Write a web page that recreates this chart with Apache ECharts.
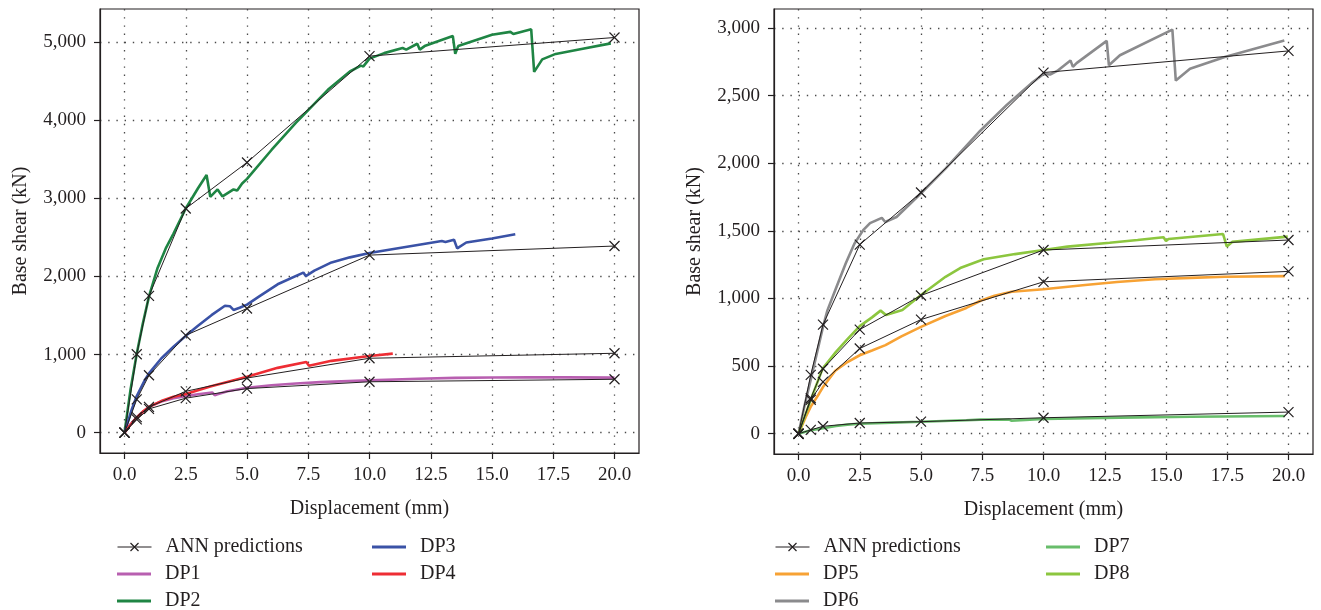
<!DOCTYPE html>
<html>
<head>
<meta charset="utf-8">
<script src="https://cdn.jsdelivr.net/npm/echarts@6/dist/echarts.min.js"></script>
<style>
  html, body { margin: 0; padding: 0; background: #ffffff; }
  #chart { width: 1321px; height: 610px; }
</style>
</head>
<body>
<div id="chart"></div>
<script>
// Displacement steps at which the ANN model was evaluated (mm)
const displacementAnn = [0, 0.5, 1, 2.5, 5, 10, 20];

// ANN predicted base shear (kN) for each design point
const annDP1 = [0, 170, 305, 442, 565, 652, 684];
const annDP2 = [0, 1005, 1752, 2870, 3460, 4822, 5060];
const annDP3 = [0, 426, 735, 1247, 1590, 2274, 2390];
const annDP4 = [0, 200, 330, 530, 700, 953, 1017];
const annDP5 = [0, 250, 383, 630, 844, 1123, 1200];
const annDP6 = [0, 435, 806, 1398, 1783, 2670, 2830];
const annDP7 = [0, 28, 55, 79, 89, 118, 160];
const annDP8 = [0, 262, 480, 770, 1022, 1358, 1432];

// Pushover curves: [displacement (mm), base shear (kN)]
const dp1 = [[0,0],[0.25,110],[0.5,195],[0.75,268],[1.0,330],[1.5,400],[2.0,442],[2.5,468],[3.0,492],[3.58,515],[3.68,480],[3.8,492],[4.2,530],[5.0,575],[6.0,608],[7.0,630],[8.0,647],[10.0,670],[12.0,690],[13.5,702],[15.0,707],[16.5,709],[18.0,708],[20.0,705]];
const dp2 = [[0,0],[0.25,560],[0.5,1010],[0.75,1400],[1.0,1745],[1.35,2110],[1.7,2370],[2.0,2550],[2.5,2870],[3.0,3130],[3.35,3300],[3.5,3020],[3.8,3115],[4.0,3025],[4.45,3115],[4.6,3100],[4.8,3190],[5.0,3250],[6.0,3620],[7.0,3970],[7.5,4130],[8.3,4390],[9.2,4625],[9.65,4700],[9.75,4690],[10.0,4790],[10.6,4860],[11.35,4925],[11.5,4905],[11.95,4980],[12.05,4905],[12.25,4950],[13.4,5080],[13.5,4850],[13.62,4950],[15.0,5095],[15.75,5132],[15.87,5105],[16.6,5165],[16.72,4620],[17.05,4780],[17.6,4850],[18.6,4910],[19.85,4985]];
const dp3 = [[0,0],[0.3,300],[0.5,470],[0.84,680],[1.0,760],[1.5,950],[2.0,1100],[2.5,1240],[3.0,1370],[3.55,1505],[4.1,1625],[4.3,1620],[4.45,1572],[4.7,1600],[5.0,1640],[5.5,1745],[6.25,1900],[7.3,2050],[7.4,2005],[7.75,2075],[8.45,2180],[9.2,2245],[10.0,2300],[11.35,2372],[12.95,2455],[13.1,2443],[13.45,2470],[13.58,2360],[13.95,2435],[15.0,2487],[15.95,2540]];
const dp4 = [[0,0],[0.25,105],[0.5,195],[0.75,270],[1.0,330],[1.5,405],[2.0,460],[2.5,495],[3.5,590],[5.0,715],[6.25,830],[7.42,905],[7.53,858],[8.45,920],[10.0,983],[10.95,1012]];
const dp5 = [[0,0],[0.3,125],[0.5,200],[0.84,296],[1.0,345],[1.5,465],[2.0,530],[2.5,580],[3.0,615],[3.55,655],[4.2,720],[5.0,790],[6.0,870],[6.85,930],[7.45,985],[8.0,1020],[8.7,1050],[10.0,1068],[11.7,1100],[13.0,1122],[14.55,1142],[16.0,1152],[17.4,1160],[19.85,1165]];
const dp6 = [[0,0],[0.25,210],[0.5,400],[0.84,665],[1.0,790],[1.18,912],[1.53,1075],[1.93,1260],[2.28,1405],[2.64,1505],[2.92,1557],[3.4,1596],[3.54,1565],[4.0,1602],[5.0,1778],[6.0,1960],[7.42,2240],[8.5,2430],[9.5,2590],[10.0,2660],[10.27,2656],[10.56,2682],[11.1,2760],[11.2,2712],[11.35,2740],[12.58,2904],[12.67,2724],[13.12,2798],[15.26,2988],[15.4,2611],[15.98,2698],[17.4,2785],[19.83,2908]];
const dp7 = [[0,0],[0.5,25],[1.0,40],[1.53,57],[2.0,67],[2.5,74],[3.5,80],[5.0,88],[6.85,99],[7.42,104],[8.6,104],[8.7,96],[10.0,110],[13.1,119],[16.0,125],[19.85,131]];
const dp8 = [[0,0],[0.5,250],[0.98,480],[1.53,605],[2.0,700],[2.5,795],[3.0,860],[3.35,910],[3.42,915],[3.57,877],[4.24,914],[5.0,1025],[6.0,1160],[6.6,1225],[7.56,1290],[8.84,1328],[10.0,1358],[10.98,1383],[12.7,1412],[13.84,1432],[13.9,1420],[14.9,1452],[15.0,1425],[15.1,1440],[17.33,1476],[17.48,1385],[17.7,1418],[19.97,1457]];

// Tick positions
const xTicks = [0, 2.5, 5, 7.5, 10, 12.5, 15, 17.5, 20];
const yTicksLeft = [0, 1000, 2000, 3000, 4000, 5000];
const yTicksRight = [0, 500, 1000, 1500, 2000, 2500, 3000];

const INK = '#231f20';
const FONT = 'Liberation Serif';
const CROSS = 'path://M0,0L10,10M10,0L0,10';
const colors = {
  DP1: '#b85fb0', DP2: '#1f8544', DP3: '#3a52a6', DP4: '#ee2d34',
  DP5: '#f7a234', DP6: '#8b8b8d', DP7: '#68bd6b', DP8: '#8cc63f'
};

function curve(name, pts, idx) {
  return {
    type: 'line', name: name, xAxisIndex: idx, yAxisIndex: idx,
    data: pts, symbol: 'none', z: 2,
    lineStyle: { color: colors[name], width: 2.6 },
    itemStyle: { color: colors[name] }
  };
}

function ann(values, idx) {
  return {
    type: 'line', name: 'ANN predictions', xAxisIndex: idx, yAxisIndex: idx,
    data: displacementAnn.map((x, i) => [x, values[i]]),
    symbol: CROSS, symbolSize: 10, z: 3,
    lineStyle: { color: INK, width: 1 },
    itemStyle: { color: INK, borderColor: INK, borderWidth: 1.2 }
  };
}

const dotted = { show: true, lineStyle: { type: [1.4, 6.8], color: '#4a4a4a', width: 1.3 } };

function xAxis(idx) {
  return {
    type: 'value', gridIndex: idx, min: -1, max: 21,
    axisLine: { show: true, onZero: false, lineStyle: { color: INK, width: 1.2 } },
    axisTick: { show: true, length: 6, customValues: xTicks, lineStyle: { color: INK, width: 1.2 } },
    axisLabel: { customValues: xTicks, formatter: v => v.toFixed(1), fontSize: 19, fontFamily: FONT, color: INK, margin: 13 },
    splitLine: dotted,
    name: 'Displacement (mm)', nameLocation: 'middle', nameGap: 46,
    nameTextStyle: { fontSize: 20, fontFamily: FONT, color: INK }
  };
}

function yAxis(idx, min, max, ticks) {
  return {
    type: 'value', gridIndex: idx, min: min, max: max,
    axisLine: { show: true, onZero: false, lineStyle: { color: INK, width: 1.2 } },
    axisTick: { show: true, length: 6, customValues: ticks, lineStyle: { color: INK, width: 1.2 } },
    axisLabel: { customValues: ticks, formatter: v => v.toLocaleString('en-US'), fontSize: 19, fontFamily: FONT, color: INK, margin: 14 },
    splitLine: dotted,
    name: 'Base shear (kN)', nameLocation: 'middle', nameGap: 69,
    nameTextStyle: { fontSize: 20, fontFamily: FONT, color: INK }
  };
}

function legendItem(name, left, centerY) {
  const isAnn = name === 'ANN predictions';
  return {
    left: left, top: centerY - 11, padding: 0,
    data: [isAnn ? { name: name } : { name: name, icon: 'rect' }],
    itemWidth: 34, itemHeight: isAnn ? 10 : 3,
    itemStyle: isAnn ? { borderWidth: 1.2 } : {},
    lineStyle: { width: 1 },
    textStyle: { fontSize: 20, fontFamily: FONT, color: INK, lineHeight: 22, padding: [0, 0, 0, 9] }
  };
}

const chart = echarts.init(document.getElementById('chart'), null, { renderer: 'canvas' });
chart.setOption({
  animation: false,
  backgroundColor: '#ffffff',
  textStyle: { fontFamily: FONT },
  grid: [
    { left: 100, top: 9, width: 539, height: 444, show: true, borderColor: INK, borderWidth: 1.2, backgroundColor: 'transparent' },
    { left: 774, top: 9, width: 539, height: 445, show: true, borderColor: INK, borderWidth: 1.2, backgroundColor: 'transparent' }
  ],
  xAxis: [xAxis(0), xAxis(1)],
  yAxis: [yAxis(0, -260, 5425, yTicksLeft), yAxis(1, -150, 3140, yTicksRight)],
  legend: [
    legendItem('ANN predictions', 117, 547),
    legendItem('DP1', 117, 574),
    legendItem('DP2', 117, 601),
    legendItem('DP3', 372, 547),
    legendItem('DP4', 372, 574),
    legendItem('ANN predictions', 775, 547),
    legendItem('DP5', 775, 574),
    legendItem('DP6', 775, 601),
    legendItem('DP7', 1046, 547),
    legendItem('DP8', 1046, 574)
  ],
  series: [
    curve('DP1', dp1, 0), curve('DP2', dp2, 0), curve('DP3', dp3, 0), curve('DP4', dp4, 0),
    ann(annDP1, 0), ann(annDP2, 0), ann(annDP3, 0), ann(annDP4, 0),
    curve('DP5', dp5, 1), curve('DP6', dp6, 1), curve('DP7', dp7, 1), curve('DP8', dp8, 1),
    ann(annDP5, 1), ann(annDP6, 1), ann(annDP7, 1), ann(annDP8, 1)
  ]
});
</script>
</body>
</html>
